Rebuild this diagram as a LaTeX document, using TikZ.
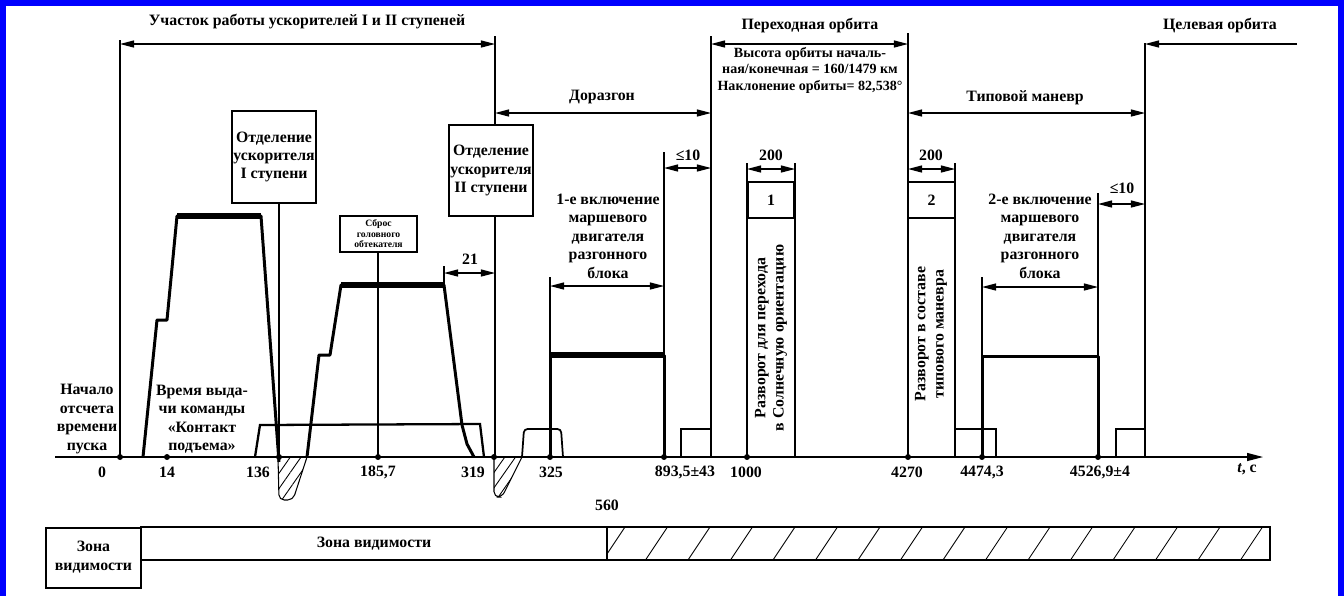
\documentclass[tikz,border=0pt]{standalone}
\usepackage{fontspec}
\setmainfont{Liberation Serif}
\usetikzlibrary{arrows.meta}
\usetikzlibrary{patterns.meta}

\tikzset{
  lbl/.style={font=\fontsize{9}{10.5}\selectfont\bfseries, align=center, inner sep=0pt},
  small/.style={font=\fontsize{8}{9.4}\selectfont\bfseries, align=center, inner sep=0pt},
  tiny/.style={font=\fontsize{5.5}{6}\selectfont\bfseries, align=center, inner sep=0pt},
  guide/.style={line width=0.7pt},
  burn/.style={line width=1.7pt, line join=round},
  dim/.style={line width=0.7pt, {Triangle[length=8pt,width=4pt]}-{Triangle[length=8pt,width=4pt]}},
  dimend/.style={line width=0.7pt, -{Triangle[length=8pt,width=4pt]}},
  hatch/.style={line width=0.6pt, pattern={Lines[angle=55,distance=5pt,line width=0.5pt]}}
}

\begin{document}
\begin{tikzpicture}[x=0.02cm,y=-0.02cm]
\useasboundingbox (0,0) rectangle (1344,596);
\fill[white] (0,0) rectangle (1344,596);
\fill[blue] (0,0) rectangle (1344,6);
\fill[blue] (0,0) rectangle (6,596);
\fill[blue] (1338,0) rectangle (1344,596);

% long boundary lines
\draw[guide] (120,40) -- (120,457);
\draw[guide] (495,36) -- (495,457);
\draw[guide] (711,36) -- (711,457);
\draw[guide] (908,33) -- (908,457);
\draw[guide] (1145,43) -- (1145,457);

% phase arrows
\draw[dim] (120,44) -- (495,44);
\node[lbl] (boosters) at (307,22) {Участок работы ускорителей I и II ступеней};
\draw[dim] (711,44) -- (908,44);
\node[lbl] (transfer) at (810,26) {Переходная орбита};
\draw[dimend] (1297,44) -- (1145,44);
\node[lbl] (target) at (1220,26) {Целевая орбита};
\draw[dim] (495,113) -- (711,113);
\node[lbl] (boost) at (602,97) {Доразгон};
\draw[dim] (908,113) -- (1145,113);
\node[lbl] (manoeuvre) at (1025,98) {Типовой маневр};
\node[small] (orbit) at (810,70) {Высота орбиты началь-\\ная/конечная = 160/1479 км\\Наклонение орбиты= 82,538°};

% hatched drops below the axis
\draw[hatch,rounded corners=3pt] (278,457) -- (279,500) -- (293,500) -- (307,457);
\draw[hatch,rounded corners=3pt] (494,457) -- (494,497) -- (502,497) -- (522,457);

% lift-off contact
\draw[line width=1.3pt] (255,457) -- (260,425) -- (480,424) -- (484,457);

% booster thrust profiles
\draw[burn] (143,457) -- (157,320) -- (167,320) -- (177,216) -- (261,216) -- (279,462);
\draw[line width=3pt] (177,216) -- (261,216);
\draw[burn] (307,457) -- (319,355) -- (330,355) -- (341,285) -- (444,285) -- (462,425) -- (467,444) -- (474,457);
\draw[line width=3pt] (341,285) -- (444,285);

% separation events
\draw[guide] (279,203) -- (279,457);
\node[lbl,draw,fill=white,minimum width=1.68cm,minimum height=1.84cm,line width=0.7pt] (sepI) at (274,157) {Отделение\\ускорителя\\I ступени};
\node[lbl,draw,fill=white,minimum width=1.68cm,minimum height=1.82cm,line width=0.7pt] (sepII) at (491,170.5) {Отделение\\ускорителя\\II ступени};
\draw[guide] (378,252) -- (378,457);
\node[tiny,draw,fill=white,minimum width=1.54cm,minimum height=0.72cm,line width=0.7pt] (fairing) at (378.5,234) {Сброс\\головного\\обтекателя};
\draw[guide] (444,266) -- (444,285);
\draw[dim] (444,273) -- (495,273);
\node[lbl] (d21) at (470,259) {21};

% first burn
\draw[guide] (550,277) -- (550,355);
\draw[guide] (664,152) -- (664,355);
\draw[burn] (550,457) -- (550,355) -- (664,355) -- (664,457);
\draw[line width=3pt] (549,355) -- (665,355);
\draw[dim] (550,286) -- (664,286);
\node[lbl] (burnI) at (608,236) {1-е включение\\маршевого\\двигателя\\разгонного\\блока};
\draw[dim] (664,168) -- (711,168);
\node[lbl] (le1) at (688,155) {≤10};
\draw[line width=1pt,rounded corners=2pt] (522,457) -- (524,429) -- (561,429) -- (563,457);
\draw[line width=1pt] (681,457) -- (681,429) -- (711,429);

% turns
\draw[guide] (747,163) -- (747,457);
\draw[guide] (795,163) -- (795,457);
\draw[dim] (747,169) -- (795,169);
\node[lbl] (w1) at (771,155) {200};
\node[lbl,draw,line width=1.3pt,minimum width=0.94cm,minimum height=0.72cm] (turnI) at (771,200) {1};
\node[lbl,rotate=90] (turnItxt) at (771,338) {Разворот для перехода\\в Солнечную ориентацию};
\draw[guide] (955,163) -- (955,457);
\draw[dim] (908,169) -- (955,169);
\node[lbl] (w2) at (931,155) {200};
\node[lbl,draw,line width=1.3pt,minimum width=0.94cm,minimum height=0.72cm] (turnII) at (931.5,200) {2};
\node[lbl,rotate=90] (turnIItxt) at (931,334) {Разворот в составе\\типового маневра};

% second burn
\draw[guide] (982,277) -- (982,356);
\draw[guide] (1098,193) -- (1098,356);
\draw[burn] (982,457) -- (982,356) -- (1098,356) -- (1098,457);
\draw[dim] (982,287) -- (1098,287);
\node[lbl] (burnII) at (1040,236) {2-е включение\\маршевого\\двигателя\\разгонного\\блока};
\draw[dim] (1098,204) -- (1145,204);
\node[lbl] (le2) at (1122,188) {≤10};
\draw[line width=1pt] (955,429) -- (996,429) -- (996,457);
\draw[line width=1pt] (1116,457) -- (1116,429) -- (1145,429);

% time axis
\draw[line width=0.7pt,-{Triangle[length=9pt,width=4.5pt]}] (55,457) -- (1263,457);
\foreach \t in {120,167,279,378,494,550,664,747,908,982,1098}
  \fill (\t,457) circle (1.7pt);
\node[lbl] (t0) at (102,472) {0};
\node[lbl] (t14) at (167,472) {14};
\node[lbl] (t136) at (258,472) {136};
\node[lbl] (t185) at (378,472) {185,7};
\node[lbl] (t319) at (473,472) {319};
\node[lbl] (t325) at (551,472) {325};
\node[lbl] (t893) at (685,472) {893,5±43};
\node[lbl] (t1000) at (746,472) {1000};
\node[lbl] (t4270) at (907,472) {4270};
\node[lbl] (t4474) at (982,472) {4474,3};
\node[lbl] (t4526) at (1100,472) {4526,9±4};
\node[lbl] (tunit) at (1247,469) {\textit{t}, с};
\node[lbl] (start) at (87,419) {Начало\\отсчета\\времени\\пуска};
\node[lbl] (liftoff) at (202,419) {Время выда-\\чи команды\\«Контакт\\подъема»};

% visibility zones
\draw[guide] (46,528) rectangle (141,588);
\node[lbl] (zone1) at (93.5,557) {Зона\\видимости};
\draw[guide] (141,527) rectangle (1270,560);
\draw[guide] (607,527) -- (607,560);
\node[lbl] (zone2) at (374,544) {Зона видимости};
\node[lbl] (t560) at (607,505) {560};
\begin{scope}
\clip (607,527) rectangle (1270,560);
\foreach \k in {0,...,16}
  \draw[line width=0.5pt] (603+42.5*\k,560) -- (625+42.5*\k,527);
\end{scope}

\end{tikzpicture}
\end{document}
